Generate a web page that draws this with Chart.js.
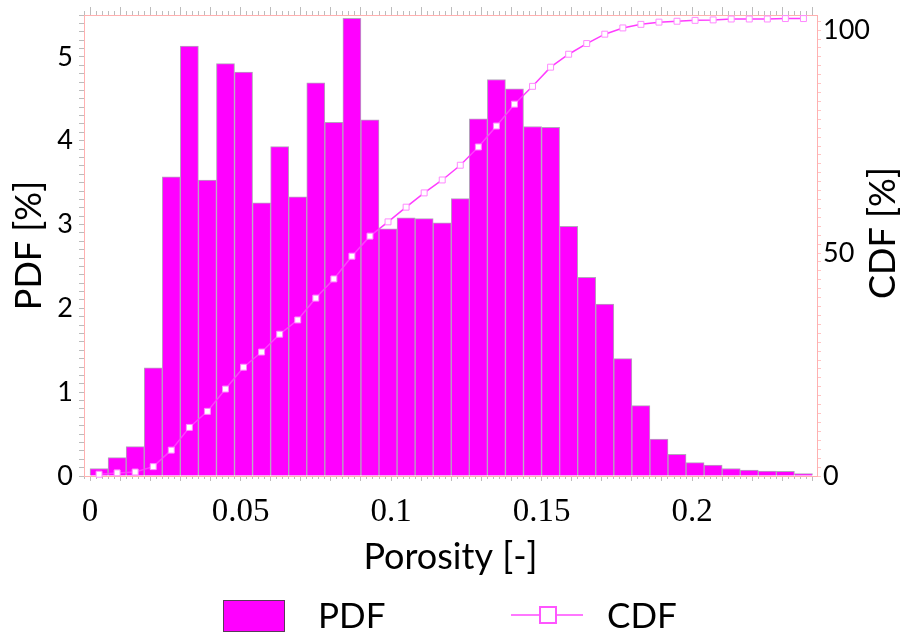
<!DOCTYPE html>
<html>
<head>
<meta charset="utf-8">
<script src="https://cdn.jsdelivr.net/npm/chart.js@4.4.1/dist/chart.umd.min.js"></script>
<style>
  body { margin: 0; background: #fff; }
  #wrap { position: relative; width: 904px; height: 637px; }
  .lg { position: absolute; font-family: Lato, sans-serif; font-size: 35px; line-height: 36px; color: #000; }
  .pdf-box { position: absolute; left: 223px; top: 600px; width: 62px; height: 32px; box-sizing: border-box;
             background: #ff00ff; border: 1px solid #5a3a5a; }
  .cdf-line { position: absolute; left: 511px; top: 614px; width: 72px; height: 2px; background: #ff77ff; }
  .cdf-mark { position: absolute; left: 539px; top: 606px; width: 18px; height: 18px; box-sizing: border-box;
              background: #fff; border: 2px solid #ff55ff; }
</style>
</head>
<body>
<div id="wrap">
  <canvas id="chart" width="904" height="637"></canvas>
  <div class="pdf-box"></div>
  <div class="lg" style="left:318px; top:596px;">PDF</div>
  <div class="cdf-line"></div>
  <div class="cdf-mark"></div>
  <div class="lg" style="left:607px; top:596px;">CDF</div>
</div>
<script>
// porosity bin centres (bins are 0.006 wide)
const binCenters = [
  0.003, 0.009, 0.015, 0.021, 0.027, 0.033, 0.039, 0.045, 0.051, 0.057,
  0.063, 0.069, 0.075, 0.081, 0.087, 0.093, 0.099, 0.105, 0.111, 0.117,
  0.123, 0.129, 0.135, 0.141, 0.147, 0.153, 0.159, 0.165, 0.171, 0.177,
  0.183, 0.189, 0.195, 0.201, 0.207, 0.213, 0.219, 0.225, 0.231, 0.237
];

// PDF [%]
const pdfValues = [
  0.09, 0.22, 0.35, 1.29, 3.57, 5.13, 3.53, 4.92, 4.82, 3.26,
  3.93, 3.33, 4.69, 4.22, 5.46, 4.25, 2.95, 3.08, 3.07, 3.02,
  3.31, 4.26, 4.73, 4.62, 4.17, 4.16, 2.98, 2.37, 2.05, 1.40,
  0.84, 0.44, 0.26, 0.16, 0.13, 0.09, 0.07, 0.06, 0.055, 0.03
];

// CDF [%]
const cdfValues = [
  0.4, 0.7, 0.9, 2.1, 5.8, 10.9, 14.5, 19.5, 24.4, 27.8,
  31.8, 35.0, 39.9, 44.2, 49.3, 53.8, 57.0, 60.3, 63.5, 66.4,
  69.7, 73.8, 78.5, 83.4, 87.4, 91.7, 94.6, 97.0, 99.1, 100.5,
  101.3, 101.8, 102.0, 102.2, 102.3, 102.5, 102.5, 102.5, 102.6, 102.6
];

const xTickLabels = [0, 0.05, 0.1, 0.15, 0.2];
const pdfTickLabels = [0, 1, 2, 3, 4, 5];
const cdfTickLabels = [0, 50, 100];

const X_MIN = -0.002;
const X_MAX = 0.2415;
const PINK = '#ffb0b0';
const TICK_GREY = '#bcbcbc';

const pdfPoints = binCenters.map((x, i) => ({ x: x, y: pdfValues[i] }));
const cdfPoints = binCenters.map((x, i) => ({ x: x, y: cdfValues[i] }));

function near(v, list) {
  return list.find(t => Math.abs(v - t) < 1e-6);
}

// fixed box sizes so the plot area lands where the original's does
function fixBox(w, h) {
  return s => {
    if (w !== null) s.width = w;
    if (h !== null) s.height = h;
    s.paddingTop = 0;
    s.paddingBottom = 0;
    s.paddingLeft = 0;
    s.paddingRight = 0;
  };
}

// right axis title reads bottom-to-top like the left one
const rightTitle = {
  id: 'rightTitle',
  afterDraw(chart) {
    const c = chart.ctx;
    c.save();
    c.translate(883, 233);
    c.rotate(-Math.PI / 2);
    c.font = '36px Lato';
    c.fillStyle = '#000';
    c.textAlign = 'center';
    c.textBaseline = 'middle';
    c.fillText('CDF [%]', 0, 0);
    c.restore();
  }
};

new Chart(document.getElementById('chart'), {
  type: 'bar',
  data: {
    datasets: [
      {
        type: 'line',
        label: 'CDF',
        data: cdfPoints,
        xAxisID: 'x',
        yAxisID: 'y2',
        borderColor: '#ff3cff',
        borderWidth: 1.5,
        pointStyle: 'rect',
        pointRadius: 4.2,
        pointBackgroundColor: '#ffffff',
        pointBorderColor: '#ff88ff',
        pointBorderWidth: 1,
        tension: 0,
        clip: false,
        order: 0
      },
      {
        type: 'bar',
        label: 'PDF',
        data: pdfPoints,
        xAxisID: 'x',
        yAxisID: 'y',
        backgroundColor: '#ff00ff',
        borderColor: '#b4a4bc',
        borderWidth: 1,
        barPercentage: 1,
        categoryPercentage: 1,
        order: 1
      }
    ]
  },
  options: {
    responsive: false,
    animation: false,
    layout: { padding: { left: 0, right: 0, top: 0, bottom: 58 } },
    plugins: { legend: { display: false }, tooltip: { enabled: false } },
    scales: {
      x: {
        type: 'linear',
        position: 'bottom',
        weight: 1,
        min: X_MIN,
        max: X_MAX,
        offset: false,
        grid: { drawOnChartArea: false, offset: false, tickLength: 5, tickColor: TICK_GREY },
        border: { color: PINK },
        ticks: {
          stepSize: 0.01,
          autoSkip: false,
          includeBounds: false,
          maxRotation: 0,
          padding: 12,
          color: '#000',
          font: { family: 'Liberation Serif', size: 33 },
          callback: v => {
            const t = near(v, xTickLabels);
            return t === undefined ? '' : String(t);
          }
        },
        title: {
          display: true,
          text: 'Porosity [-]',
          color: '#000',
          font: { family: 'Lato', size: 36 },
          padding: { top: 0, bottom: 0 }
        },
        afterFit: fixBox(null, 103)
      },
      xMinor: {
        type: 'linear',
        position: 'bottom',
        weight: 0,
        min: X_MIN,
        max: X_MAX,
        offset: false,
        grid: { drawOnChartArea: false, offset: false, tickLength: 3, tickColor: TICK_GREY },
        border: { display: false },
        ticks: { display: false, stepSize: 0.002, autoSkip: false, includeBounds: false },
        afterFit: fixBox(null, 0)
      },
      xTop: {
        type: 'linear',
        position: 'top',
        weight: 1,
        min: X_MIN,
        max: X_MAX,
        offset: false,
        grid: { drawOnChartArea: false, offset: false, tickLength: 8, tickColor: TICK_GREY },
        border: { color: PINK },
        ticks: { display: false, stepSize: 0.01, autoSkip: false, includeBounds: false },
        afterFit: fixBox(null, 15)
      },
      xTopMinor: {
        type: 'linear',
        position: 'top',
        weight: 0,
        min: X_MIN,
        max: X_MAX,
        offset: false,
        grid: { drawOnChartArea: false, offset: false, tickLength: 4, tickColor: TICK_GREY },
        border: { display: false },
        ticks: { display: false, stepSize: 0.002, autoSkip: false, includeBounds: false },
        afterFit: fixBox(null, 0)
      },
      y: {
        type: 'linear',
        position: 'left',
        min: 0,
        max: 5.5,
        grid: { drawOnChartArea: false, tickLength: 5, tickColor: TICK_GREY },
        border: { color: PINK },
        ticks: {
          stepSize: 0.1,
          autoSkip: false,
          includeBounds: false,
          padding: 6,
          color: '#000',
          font: { family: 'Lato', size: 27 },
          callback: v => {
            const t = near(v, pdfTickLabels);
            return t === undefined ? '' : String(t);
          }
        },
        title: {
          display: true,
          text: 'PDF [%]',
          color: '#000',
          font: { family: 'Lato', size: 36 },
          padding: { top: 8, bottom: 0 }
        },
        afterFit: fixBox(84, null)
      },
      y2: {
        type: 'linear',
        position: 'right',
        min: 0,
        max: 103.4,
        grid: { drawOnChartArea: false, tickLength: 4, tickColor: '#ffc4c4' },
        border: { color: PINK },
        ticks: {
          stepSize: 2,
          autoSkip: false,
          includeBounds: false,
          padding: 2,
          color: '#000',
          font: { family: 'Lato', size: 27 },
          callback: v => {
            const t = near(v, cdfTickLabels);
            return t === undefined ? '' : String(t);
          }
        },
        afterFit: fixBox(87, null)
      }
    }
  },
  plugins: [rightTitle]
});
</script>
</body>
</html>
